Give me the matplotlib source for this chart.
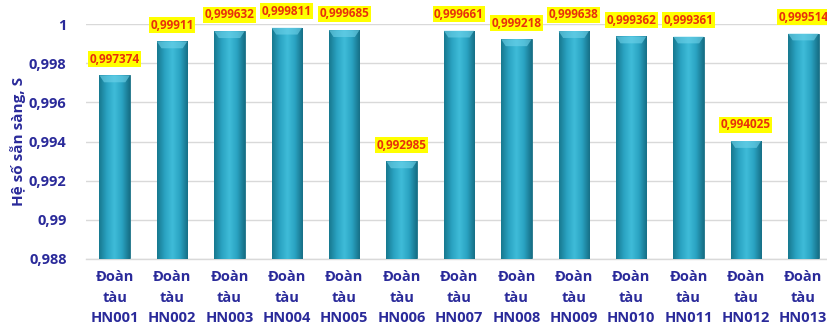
#!/usr/bin/env python3
"""Availability factor per trainset, bar chart with value badges."""

import matplotlib

matplotlib.use("Agg")
import matplotlib.pyplot as plt
import numpy as np
from matplotlib.colors import LinearSegmentedColormap
from matplotlib.patches import Polygon

trains = ["HN001", "HN002", "HN003", "HN004", "HN005", "HN006", "HN007",
          "HN008", "HN009", "HN010", "HN011", "HN012", "HN013"]
availability = [0.997374, 0.99911, 0.999632, 0.999811, 0.999685, 0.992985,
                0.999661, 0.999218, 0.999638, 0.999362, 0.999361, 0.994025,
                0.999514]
y_ticks = [0.988, 0.99, 0.992, 0.994, 0.996, 0.998, 1.0]

NAVY = "#2a2a9a"
FONT = ["Open Sans", "DejaVu Sans"]

plt.rcParams["font.family"] = FONT

fig = plt.figure(figsize=(8.27, 3.27), dpi=100)
ax = fig.add_axes([86 / 827, 68 / 327, 746 / 827, 235 / 327])

ymin, ymax = 0.988, 1.0
x = np.arange(len(trains))
width = 0.53

# cylinder-like shading across each bar
shade = LinearSegmentedColormap.from_list(
    "cyl", ["#17788f", "#2aa3c2", "#3fbcd9", "#2aa3c2", "#166f86"])
grad = np.linspace(0, 1, 64).reshape(1, -1)

bars = ax.bar(x, np.array(availability) - ymin, width, bottom=ymin,
              color="#2aa5c4", edgecolor="#1d6f83", linewidth=0.6, zorder=2)
for b, val in zip(bars, availability):
    x0 = b.get_x()
    im = ax.imshow(grad, cmap=shade, aspect="auto", zorder=3,
                   extent=[x0, x0 + width, ymin, val], interpolation="bicubic")
    im.set_clip_path(b)
    # soft bevel on the top face
    cap = 0.00035
    ax.add_patch(Polygon([[x0, val], [x0 + width, val],
                          [x0 + width * 0.85, val - cap],
                          [x0 + width * 0.15, val - cap]],
                         closed=True, facecolor="#6fd3ea",
                         edgecolor="none", alpha=0.6, zorder=4))
    ax.text(b.get_x() + width / 2, val + 0.0005, f"{val:g}".replace(".", ","),
            ha="center", va="bottom", fontsize=8.5, fontweight="bold",
            color="#e8300c", zorder=6, clip_on=False,
            bbox=dict(boxstyle="square,pad=0.12", facecolor="#ffff00",
                      edgecolor="none"))

ax.set_xlim(-0.5, len(trains) - 0.5)
ax.set_ylim(ymin, ymax)
ax.set_yticks(y_ticks)
ax.set_yticklabels([f"{t:g}".replace(".", ",") for t in y_ticks])
ax.set_xticks(x)
ax.set_xticklabels([f"Đoàn\ntàu\n{t}" for t in trains], linespacing=1.6)

ax.tick_params(axis="both", length=0, colors=NAVY, labelsize=10.5)
ax.tick_params(axis="y", pad=14)
ax.tick_params(axis="x", pad=8)
for lbl in ax.get_xticklabels() + ax.get_yticklabels():
    lbl.set_fontweight("bold")

ax.grid(axis="y", color="#d9d9d9", linewidth=1.0, zorder=0)
ax.set_axisbelow(True)
for side in ("top", "right", "left"):
    ax.spines[side].set_visible(False)
ax.spines["bottom"].set_color("#d9d9d9")
ax.spines["bottom"].set_linewidth(1.0)

ax.set_ylabel("Hệ số sẵn sàng, S", color=NAVY, fontsize=11,
              fontweight="bold", labelpad=2)

fig.savefig("out.png", dpi=100)
